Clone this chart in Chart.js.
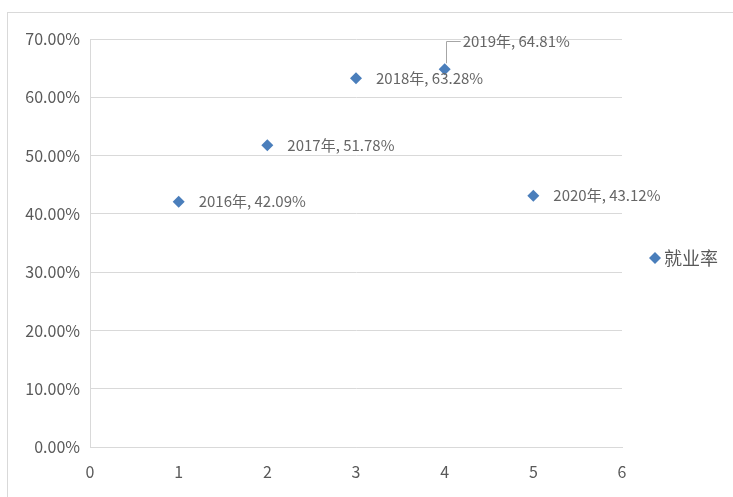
<!DOCTYPE html>
<html>
<head>
<meta charset="utf-8">
<script src="https://cdn.jsdelivr.net/npm/chart.js@4"></script>
<style>
  html, body { margin: 0; padding: 0; background: #fff; }
  #wrap { width: 733px; height: 497px; position: relative; }
</style>
</head>
<body>
<div id="wrap"><canvas id="c" width="733" height="497"></canvas></div>
<script>
// 数据
const years = ["2016年", "2017年", "2018年", "2019年", "2020年"];
const xValues = [1, 2, 3, 4, 5];
const rates = [42.09, 51.78, 63.28, 64.81, 43.12];
const seriesName = "就业率";

const FONT = '"Noto Sans CJK SC", "Microsoft YaHei", sans-serif';
const GREY = "#595959";
const BLUE = "#4a7ebb";

// 外框 + 数据标签 + 图例
const extras = {
  id: "extras",
  beforeDraw(chart) {
    const ctx = chart.ctx;
    ctx.save();
    ctx.strokeStyle = "#d9d9d9";
    ctx.lineWidth = 1;
    ctx.strokeRect(7.5, 12.5, 740, 490);
    ctx.restore();
  },
  afterDatasetsDraw(chart) {
    const ctx = chart.ctx;
    const meta = chart.getDatasetMeta(0);
    ctx.save();
    ctx.font = "15px " + FONT;
    ctx.fillStyle = "#666666";
    ctx.textBaseline = "middle";
    ctx.textAlign = "left";
    meta.data.forEach((pt, i) => {
      const text = years[i] + ", " + rates[i].toFixed(2) + "%";
      if (i === 3) {
        // 2019 标签放到上方，带引线
        const ty = chart.chartArea.top + 2;
        ctx.strokeStyle = "#a6a6a6";
        ctx.lineWidth = 1;
        ctx.beginPath();
        ctx.moveTo(Math.round(pt.x) + 1.5, pt.y - 6);
        ctx.lineTo(Math.round(pt.x) + 1.5, ty + 0.5);
        ctx.lineTo(pt.x + 16, ty + 0.5);
        ctx.stroke();
        ctx.fillText(text, pt.x + 18, ty);
      } else {
        ctx.fillText(text, pt.x + 20, pt.y);
      }
    });
    // 图例
    const lx = 655, ly = 258;
    ctx.fillStyle = BLUE;
    ctx.beginPath();
    ctx.moveTo(lx, ly - 6);
    ctx.lineTo(lx + 6, ly);
    ctx.lineTo(lx, ly + 6);
    ctx.lineTo(lx - 6, ly);
    ctx.closePath();
    ctx.fill();
    ctx.fillStyle = GREY;
    ctx.font = "18px " + FONT;
    ctx.fillText(seriesName, lx + 9, ly);
    ctx.restore();
  }
};

new Chart(document.getElementById("c"), {
  type: "scatter",
  data: {
    datasets: [{
      label: seriesName,
      data: xValues.map((x, i) => ({ x: x, y: rates[i] })),
      pointStyle: "rectRot",
      pointRadius: 6,
      pointHoverRadius: 6,
      backgroundColor: BLUE,
      borderColor: BLUE,
      borderWidth: 0
    }]
  },
  options: {
    responsive: false,
    animation: false,
    layout: { padding: { left: 0, top: 39, right: 111, bottom: 0 } },
    plugins: {
      legend: { display: false },
      tooltip: { enabled: false }
    },
    scales: {
      x: {
        type: "linear",
        min: 0,
        max: 6,
        ticks: { stepSize: 1, color: GREY, font: { family: FONT, size: 16 }, padding: 15 },
        grid: { display: false, drawTicks: false },
        border: { color: "#d9d9d9" },
        afterFit(scale) { scale.height = 50; }
      },
      y: {
        min: 0,
        max: 70,
        ticks: {
          stepSize: 10,
          color: GREY,
          font: { family: FONT, size: 16 },
          padding: 10,
          callback: (v) => v.toFixed(2) + "%"
        },
        grid: { color: "#d9d9d9", drawTicks: false },
        border: { color: "#d9d9d9" },
        afterFit(scale) { scale.width = 90; }
      }
    }
  },
  plugins: [extras]
});
</script>
</body>
</html>
